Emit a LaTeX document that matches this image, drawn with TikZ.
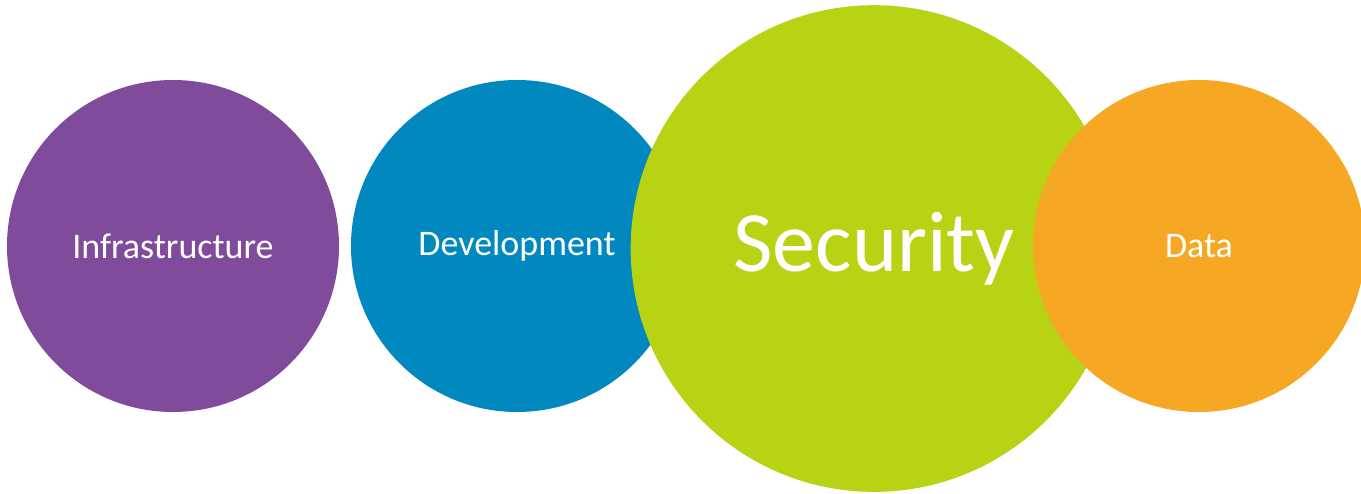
\documentclass[tikz,border=0pt]{standalone}
\usepackage{fontspec}
\setmainfont{Carlito}
\usetikzlibrary{positioning}

\definecolor{infrapurple}{HTML}{7F4B9A}
\definecolor{devblue}{HTML}{0088BF}
\definecolor{secgreen}{HTML}{B8D313}
\definecolor{dataorange}{HTML}{F6A723}

\begin{document}
\begin{tikzpicture}[on grid,
   bubble/.style={circle, inner sep=0pt, minimum size=249pt, text=white,
                  font=\fontsize{27}{32}\selectfont},
   bigbubble/.style={bubble, minimum size=365pt,
                  font=\fontsize{64.5}{77}\selectfont}]
   \useasboundingbox (0,0) rectangle (1020.75pt,369.75pt);
   \node[bubble, fill=infrapurple] (infra) at (129.75pt,185.25pt) {Infrastructure};
   \node[bubble, fill=devblue]     (dev)   [right=258pt of infra]  {Development};
   \node[bigbubble, fill=secgreen] (sec)   [right=267.75pt of dev, yshift=-1.9pt] {Security};
   \node[bubble, fill=dataorange]  (data)  [right=511.5pt of dev]  {Data};
\end{tikzpicture}
\end{document}
